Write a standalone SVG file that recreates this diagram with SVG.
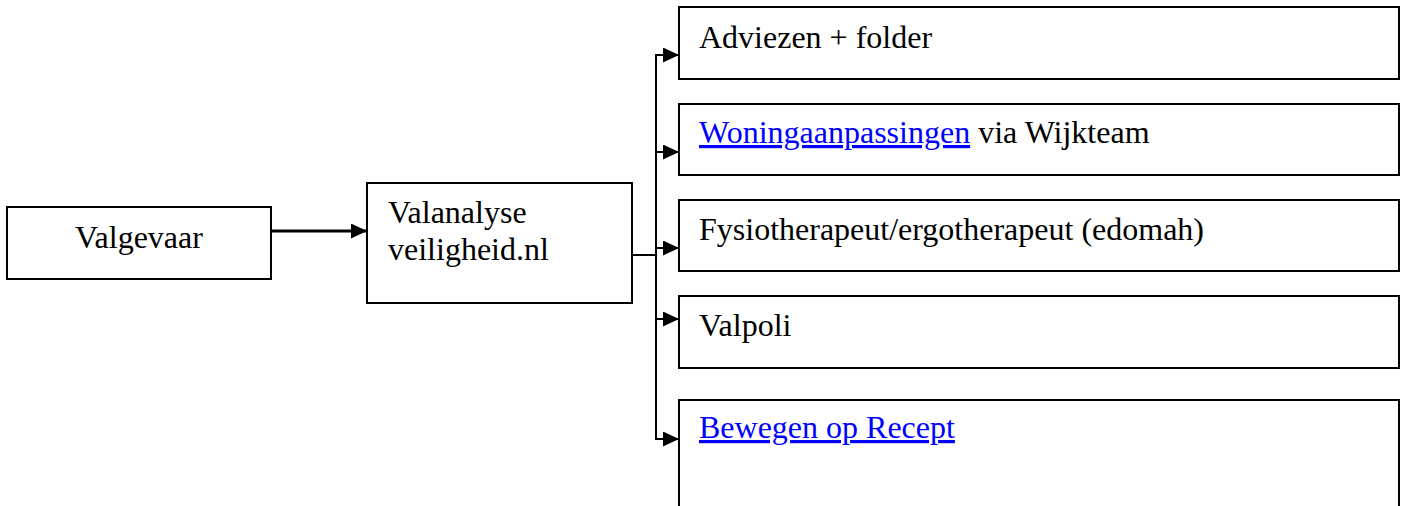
<svg xmlns="http://www.w3.org/2000/svg" width="1407" height="506" viewBox="0 0 1407 506">
<style>
.box{fill:#fff;stroke:#000;stroke-width:2}
.t{font-family:"Liberation Serif","Times New Roman",serif;font-size:32px;fill:#000}
.link{fill:#0000ff;text-decoration:underline}
.c{fill:none;stroke:#000;stroke-width:2}
</style>
<defs>
<marker id="ah" markerUnits="userSpaceOnUse" markerWidth="16" markerHeight="15" refX="16" refY="7.5" orient="auto">
<path d="M0,0 L16,7.5 L0,15 z" fill="#000"/>
</marker>
</defs>
<rect width="1407" height="506" fill="#fff"/>
<g id="connectors">
<line class="c" style="stroke-width:3" x1="271" y1="231" x2="367" y2="231" marker-end="url(#ah)"/>
<line class="c" x1="632" y1="255" x2="656" y2="255"/>
<line class="c" x1="656" y1="54" x2="656" y2="440"/>
<line class="c" x1="655" y1="55" x2="679" y2="55" marker-end="url(#ah)"/>
<line class="c" x1="655" y1="152" x2="679" y2="152" marker-end="url(#ah)"/>
<line class="c" x1="655" y1="248" x2="679" y2="248" marker-end="url(#ah)"/>
<line class="c" x1="655" y1="319" x2="679" y2="319" marker-end="url(#ah)"/>
<line class="c" x1="655" y1="439" x2="679" y2="439" marker-end="url(#ah)"/>
</g>
<g id="valgevaar">
<rect class="box" x="7" y="207" width="264" height="72"/>
<text class="t" x="75" y="248">Valgevaar</text>
</g>
<g id="valanalyse">
<rect class="box" x="367" y="183" width="265" height="120"/>
<text class="t" x="388" y="223">Valanalyse</text>
<text class="t" x="388" y="260">veiligheid.nl</text>
</g>
<g id="adviezen">
<rect class="box" x="679" y="7" width="720" height="72"/>
<text class="t" x="699" y="48">Adviezen + folder</text>
</g>
<g id="woning">
<rect class="box" x="679" y="104" width="720" height="71"/>
<text class="t" x="699" y="143"><tspan class="link">Woningaanpassingen</tspan> via Wijkteam</text>
</g>
<g id="fysio">
<rect class="box" x="679" y="200" width="720" height="71"/>
<text class="t" x="699" y="240">Fysiotherapeut/ergotherapeut (edomah)</text>
</g>
<g id="valpoli">
<rect class="box" x="679" y="296" width="720" height="72"/>
<text class="t" x="699" y="336">Valpoli</text>
</g>
<g id="bewegen">
<rect class="box" x="679" y="400" width="720" height="130"/>
<text class="t" x="699" y="438"><tspan class="link">Bewegen op Recept</tspan></text>
</g>
</svg>
